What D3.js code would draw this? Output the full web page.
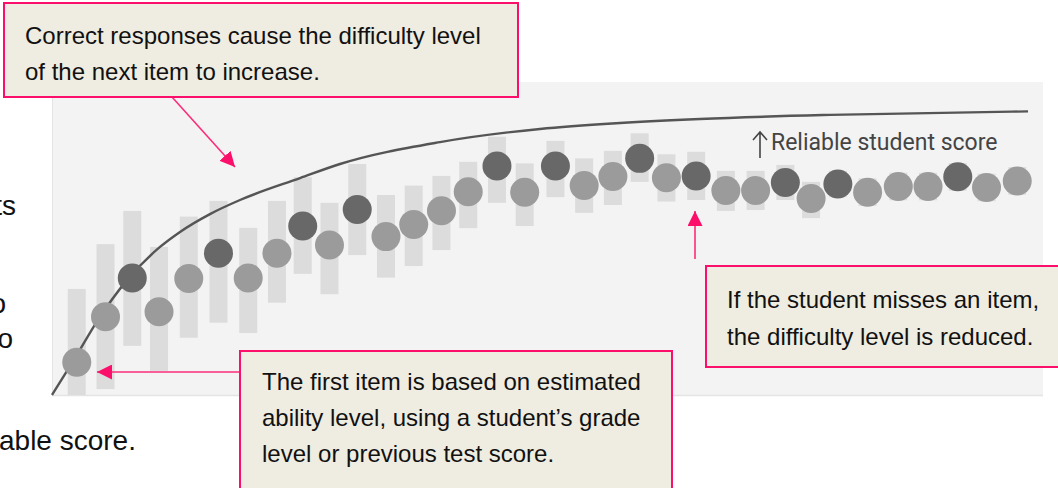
<!DOCTYPE html>
<html>
<head>
<meta charset="utf-8">
<script src="https://cdn.jsdelivr.net/npm/d3@7"></script>
<style>
  html, body { margin: 0; padding: 0; background: #ffffff; }
  svg { display: block; }
</style>
</head>
<body>
<svg id="chart" width="1058" height="488"></svg>
<script>
// ---- data ----
// item position along the test (0-100) and ability estimate (0-100)
const itemPos = [2.5, 5.4, 8.1, 10.8, 13.8, 16.8, 19.8, 22.7, 25.3, 28.0, 30.8, 33.7, 36.5, 39.3, 42.0, 44.9, 47.7, 50.8, 53.7, 56.6, 59.3, 62.0, 65.0, 68.0, 71.0, 74.0, 76.6, 79.3, 82.3, 85.4, 88.4, 91.4, 94.3, 97.4];
const estimate = [10.5, 25.0, 37.4, 26.6, 37.2, 45.3, 37.4, 45.3, 54.0, 47.9, 59.3, 50.6, 54.5, 58.9, 64.9, 73.2, 64.8, 73.2, 66.9, 69.8, 75.6, 69.4, 70.0, 65.3, 65.3, 67.9, 62.8, 67.4, 64.8, 66.6, 66.6, 69.7, 66.3, 68.4];
const upper = [33.9, 48.2, 58.8, 47.3, 57.0, 62.0, 53.4, 62.0, 69.6, 61.4, 73.8, 63.9, 66.9, 70.0, 74.5, 82.5, 74.0, 81.2, 75.6, 78.0, 83.6, 76.9, 77.7, 71.6, 71.6, 73.5, 68.1, 71.6, 69.2, 71.0, 71.0, 74.1, 70.7, 72.8];
const lower = [0, 1.9, 15.7, 7.7, 18.3, 23.1, 19.8, 29.5, 38.7, 32.2, 44.7, 37.5, 41.2, 46.3, 53.3, 61.4, 54.0, 63.2, 58.2, 60.7, 68.1, 61.8, 62.3, 58.8, 59.1, 62.3, 56.5, 63.2, 60.4, 62.2, 62.2, 65.3, 61.9, 64.0];
// 1 = dark marker, 0 = light marker
const itemType = [0, 0, 1, 0, 0, 1, 0, 0, 1, 0, 1, 0, 0, 0, 0, 1, 0, 1, 0, 0, 1, 0, 1, 0, 0, 1, 0, 1, 0, 0, 0, 1, 0, 0];

// difficulty curve
const curveX = [0, 2.32, 4.64, 7.57, 10.9, 12.92, 15.94, 18.97, 25.03, 29.06, 39.15, 49.24, 57.32, 65.39, 78.51, 98.49];
const curveY = [0, 11.8, 24.0, 36.7, 47.3, 52.1, 57.8, 62.3, 69.3, 73.8, 80.8, 85.0, 86.9, 88.2, 89.5, 90.6];

const scoreLabel = "Reliable student score";
const noteTop = ["Correct responses cause the difficulty level", "of the next item to increase."];
const noteBottom = ["The first item is based on estimated", "ability level, using a student\u2019s grade", "level or previous test score."];
const noteRight = ["If the student misses an item,", "the difficulty level is reduced."];
const sideFragments = ["ts", "o", "o", "able score."];

// ---- drawing ----
const svg = d3.select("#chart");
const x = d3.scaleLinear().domain([0, 100]).range([52, 1043]);
const y = d3.scaleLinear().domain([0, 100]).range([395, 82]);

const pink = "#fb0f6a";
const arrowPink = "#fb2c7a";
const boxFill = "#efece2";
const textFont = "'Liberation Sans', Arial, sans-serif";

// side text fragments (cropped body text)
const side = svg.append("g").attr("font-family", textFont).attr("font-size", 28).attr("fill", "#111");
side.append("text").attr("x", 16).attr("y", 215).attr("text-anchor", "end").text(sideFragments[0]);
side.append("text").attr("x", 6).attr("y", 313).attr("text-anchor", "end").text(sideFragments[1]);
side.append("text").attr("x", 13).attr("y", 348).attr("text-anchor", "end").text(sideFragments[2]);
side.append("text").attr("x", -1).attr("y", 450).text(sideFragments[3]);

// panel
svg.append("rect")
  .attr("x", x(0)).attr("y", y(100))
  .attr("width", x(100) - x(0)).attr("height", y(0) - y(100))
  .attr("fill", "#f3f3f3");
svg.append("line").attr("x1", x(0) + 0.5).attr("x2", x(0) + 0.5).attr("y1", y(100)).attr("y2", y(0))
  .attr("stroke", "#e4e4e4").attr("stroke-width", 1);
svg.append("line").attr("x1", x(0)).attr("x2", x(100)).attr("y1", y(0) + 0.5).attr("y2", y(0) + 0.5)
  .attr("stroke", "#e4e4e4").attr("stroke-width", 1.5);

const items = itemPos.map((p, i) => ({ p, e: estimate[i], hi: upper[i], lo: lower[i], t: itemType[i] }));

// range bars
svg.append("g").selectAll("rect").data(items).join("rect")
  .attr("x", d => x(d.p) - 9)
  .attr("width", 18)
  .attr("y", d => y(d.hi))
  .attr("height", d => y(d.lo) - y(d.hi))
  .attr("fill", "#dcdcdc");

// curve
const line = d3.line().x(d => x(d[0])).y(d => y(d[1])).curve(d3.curveMonotoneX);
svg.append("path")
  .datum(curveX.map((v, i) => [v, curveY[i]]))
  .attr("d", line)
  .attr("fill", "none")
  .attr("stroke", "#555")
  .attr("stroke-width", 2.4);

// markers
svg.append("g").selectAll("circle").data(items).join("circle")
  .attr("cx", d => x(d.p))
  .attr("cy", d => y(d.e))
  .attr("r", 14.5)
  .attr("fill", d => d.t ? "#686868" : "#9b9b9b");

// reliable score label with up arrow
const lab = svg.append("g");
lab.append("path")
  .attr("d", "M760,158 L760,132 M753,140 L760,132 L767,140")
  .attr("fill", "none").attr("stroke", "#444").attr("stroke-width", 1.6);
lab.append("text")
  .attr("x", 771).attr("y", 150)
  .attr("font-family", "Roboto, 'Noto Sans', sans-serif")
  .attr("font-size", 23)
  .attr("fill", "#444")
  .text(scoreLabel);

// arrows
const defs = svg.append("defs");
defs.append("marker").attr("id", "ah").attr("viewBox", "0 0 10 10")
  .attr("refX", 10).attr("refY", 5)
  .attr("markerWidth", 15).attr("markerHeight", 15)
  .attr("markerUnits", "userSpaceOnUse")
  .attr("orient", "auto")
  .append("path").attr("d", "M0,0 L10,5 L0,10 Z").attr("fill", pink);

function arrow(x1, y1, x2, y2) {
  svg.append("line")
    .attr("x1", x1).attr("y1", y1).attr("x2", x2).attr("y2", y2)
    .attr("stroke", arrowPink).attr("stroke-width", 1.6)
    .attr("marker-end", "url(#ah)");
}
arrow(172, 97, 235, 167);
arrow(240, 372, 97, 372);
arrow(695, 259, 695, 211);

// annotation boxes
function note(bx, by, bw, bh, lines, tx, baselines) {
  const g = svg.append("g");
  g.append("rect").attr("x", bx).attr("y", by).attr("width", bw).attr("height", bh)
    .attr("fill", boxFill).attr("stroke", pink).attr("stroke-width", 2);
  g.selectAll("text").data(lines).join("text")
    .attr("x", tx).attr("y", (d, i) => baselines[i])
    .attr("font-family", textFont).attr("font-size", 24)
    .attr("fill", "#111")
    .text(d => d);
}
note(4, 3, 514, 94, noteTop, 25, [44, 80]);
note(240, 351, 432, 150, noteBottom, 262, [390, 426, 462]);
note(706, 266, 360, 101, noteRight, 727, [308, 345]);
</script>
</body>
</html>
